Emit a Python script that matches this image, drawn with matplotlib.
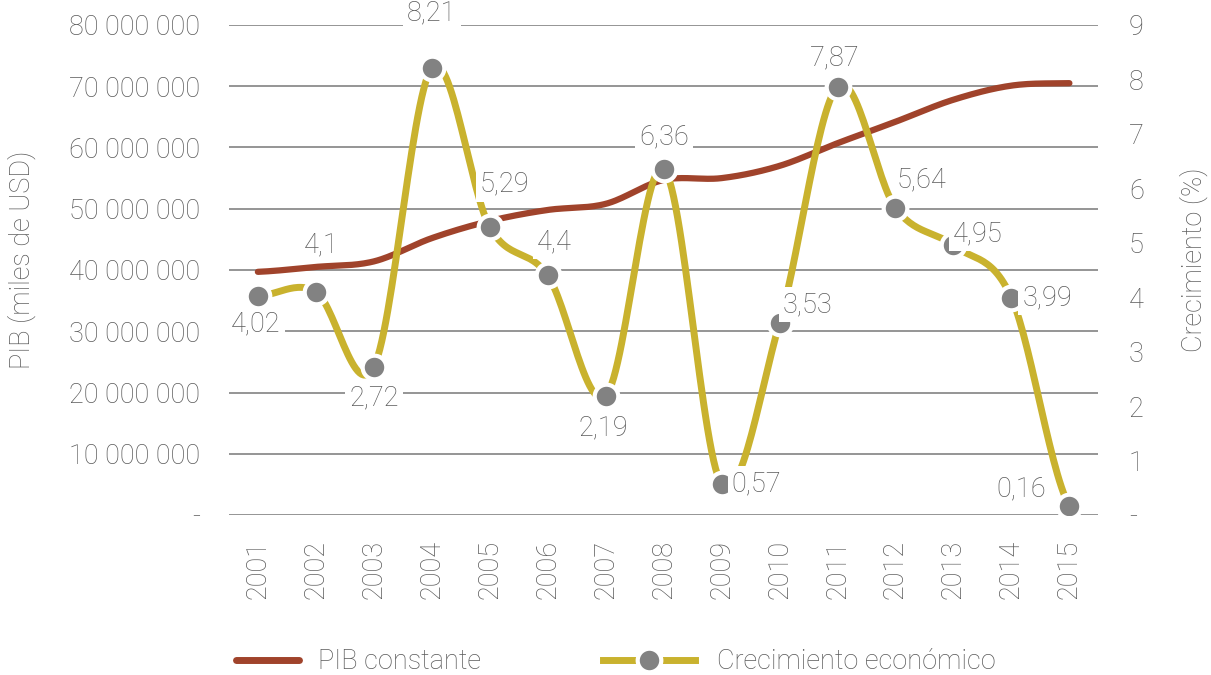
import numpy as np
import matplotlib
matplotlib.use('Agg')
import matplotlib.pyplot as plt
from matplotlib.lines import Line2D

plt.rcParams['font.family'] = ['Roboto', 'DejaVu Sans']
plt.rcParams['font.weight'] = 'light'
plt.rcParams['axes.labelweight'] = 'light'

years = ['2001', '2002', '2003', '2004', '2005', '2006', '2007', '2008',
         '2009', '2010', '2011', '2012', '2013', '2014', '2015']
pib = [39.7e6, 40.5e6, 41.4e6, 45.2e6, 48.0e6, 49.8e6, 50.8e6, 54.7e6,
       55.0e6, 57.0e6, 60.7e6, 64.2e6, 67.8e6, 70.1e6, 70.5e6]
crecimiento = [4.02, 4.1, 2.72, 8.21, 5.29, 4.4, 2.19, 6.36,
               0.57, 3.53, 7.87, 5.64, 4.95, 3.99, 0.16]
etiquetas = ['4,02', '4,1', '2,72', '8,21', '5,29', '4,4', '2,19', '6,36',
             '0,57', '3,53', '7,87', '5,64', '4,95', '3,99', '0,16']
# desplazamiento de cada etiqueta en pixeles (dx, dy)
offsets = [(-2, -28), (5, 47), (0, -31), (0, 55), (15, 43), (7, 34), (-2, -32), (0, 32),
           (35, 0), (28, 18), (-3, 29), (26, 28), (24, 12), (36, 0), (-48, 17)]

GRIS = '#5a5a5a'
ROJO = '#a0432b'
AMARILLO = '#c9b22e'
MARCA = '#828282'
FS = 19.5


def suavizar(y, n=30):
    # curva suavizada tipo Catmull-Rom, como en Excel
    y = np.asarray(y, dtype=float)
    x = np.arange(len(y), dtype=float)
    xs, ys = [], []
    for i in range(len(y) - 1):
        p0 = y[i - 1] if i > 0 else y[i]
        p3 = y[i + 2] if i + 2 < len(y) else y[i + 1]
        p1, p2 = y[i], y[i + 1]
        c1 = p1 + (p2 - p0) / 6
        c2 = p2 - (p3 - p1) / 6
        t = np.linspace(0, 1, n)
        yy = (1 - t) ** 3 * p1 + 3 * (1 - t) ** 2 * t * c1 + 3 * (1 - t) * t ** 2 * c2 + t ** 3 * p2
        xs.append(x[i] + t)
        ys.append(yy)
    return np.concatenate(xs), np.concatenate(ys)


fig = plt.figure(figsize=(12.11, 6.75), dpi=100)
ax = fig.add_axes([0.189, 0.237, 0.718, 0.726])
ax2 = ax.twinx()

x = np.arange(len(years))

for y in range(0, 80000001, 10000000):
    ax.axhline(y, color='#8c8c8c', lw=1.3, zorder=0)

xs, ys = suavizar(pib)
ax.plot(xs, ys, color=ROJO, lw=4.5, solid_capstyle='round', zorder=2)

xs, ys = suavizar(crecimiento)
ax2.plot(xs, ys, color=AMARILLO, lw=5, zorder=3)
ax2.plot(x, crecimiento, ls='none', marker='o', ms=17, mfc=MARCA,
         mec='white', mew=3, zorder=4)

for xi, v, lab, off in zip(x, crecimiento, etiquetas, offsets):
    ax2.annotate(lab, (xi, v), xytext=off, textcoords='offset pixels',
                 ha='center', va='center', fontsize=FS, color=GRIS, zorder=5,
                 bbox=dict(boxstyle='square,pad=0.15', fc='white', ec='none'))

ax.set_xlim(-0.5, len(years) - 0.5)
ax.set_ylim(0, 80000000)
ax2.set_ylim(0, 9)

ax.set_xticks(x)
ax.set_xticklabels(years, rotation=90, fontsize=FS, color=GRIS)
yt = list(range(0, 80000001, 10000000))
ax.set_yticks(yt)
ax.set_yticklabels(['-'] + [f'{v:,}'.replace(',', ' ') for v in yt[1:]],
                   fontsize=FS, color=GRIS)
ax2.set_yticks(range(10))
ax2.set_yticklabels(['-'] + [str(i) for i in range(1, 10)], fontsize=FS, color=GRIS)

ax.tick_params(axis='y', length=0, pad=21)
ax.tick_params(axis='x', length=0, pad=18)
ax2.tick_params(length=0, pad=22)

for a in (ax, ax2):
    for s in a.spines.values():
        s.set_visible(False)

ax.set_ylabel('PIB (miles de USD)', fontsize=FS, color=GRIS, fontweight='light')
ax.yaxis.set_label_coords(-0.222, 0.52)
ax2.set_ylabel('Crecimiento (%)', fontsize=FS, color=GRIS, rotation=90,
               fontweight='light')
ax2.yaxis.set_label_coords(1.093, 0.52)

h1 = Line2D([], [], color=ROJO, lw=5, solid_capstyle='round')
h2 = Line2D([], [], color=AMARILLO, lw=5, marker='o', ms=17, mfc=MARCA,
            mec='white', mew=3)
fig.legend([h1], ['PIB constante'], loc='center left',
           bbox_to_anchor=(0.175, 0.02), frameon=False, fontsize=FS,
           labelcolor=GRIS, handlelength=2.3, handletextpad=0.7)
fig.legend([h2], ['Crecimiento económico'], loc='center left',
           bbox_to_anchor=(0.478, 0.02), frameon=False, fontsize=FS,
           labelcolor=GRIS, handlelength=3.4, handletextpad=0.8)

fig.savefig('out.png', dpi=100)
